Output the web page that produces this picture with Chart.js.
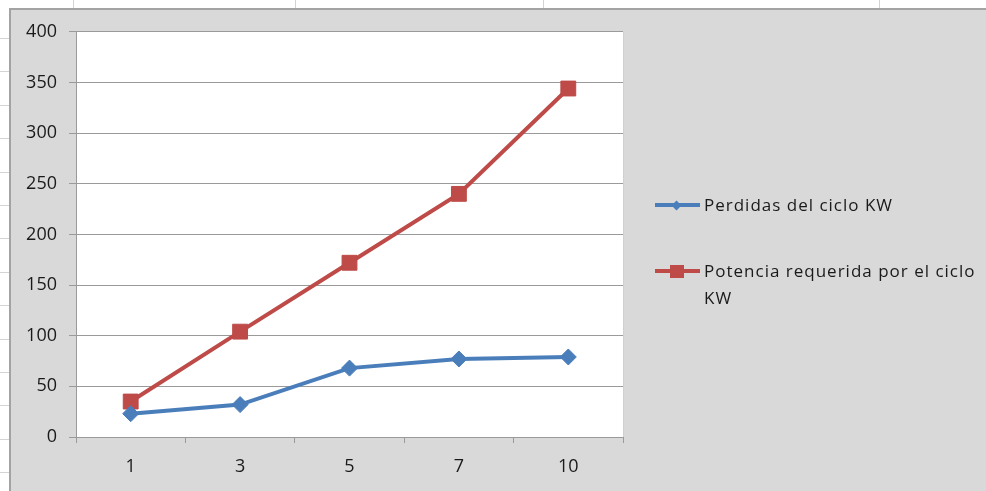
<!DOCTYPE html>
<html><head><meta charset="utf-8">
<script src="https://cdn.jsdelivr.net/npm/chart.js@4.4.1/dist/chart.umd.min.js"></script>
<style>
html,body{margin:0;padding:0;width:986px;height:491px;overflow:hidden;background:#fff;font-family:"Open Sans",sans-serif;}
.vl{position:absolute;top:0;height:8px;width:1px;background:#d4d4d4;}
.hl{position:absolute;left:0;width:9px;height:1px;background:#d4d4d4;}
#frame{position:absolute;left:9px;top:8px;width:977px;height:483px;background:#d9d9d9;border-top:2px solid #a3a3a3;border-left:2px solid #a3a3a3;box-sizing:border-box;}
#wrap{position:absolute;left:10px;top:9px;width:976px;height:482px;}
#legend{position:absolute;left:0;top:0;}
.item{position:absolute;left:655px;}
.sym{position:absolute;left:0;top:12px;width:45px;height:4px;}
.ln{position:absolute;left:0;top:0;width:45px;height:4px;}
.mk{position:absolute;}
.txt{position:absolute;left:49px;top:0;width:280px;line-height:27px;font-size:17px;color:#1a1a1a;letter-spacing:1px;white-space:normal;}
</style></head>
<body>
<div id="sheet"></div>
<div id="frame"></div>
<div id="wrap"><canvas id="c" width="976" height="482"></canvas></div>
<div id="legend"></div>
<script>
const categories = ['1', '3', '5', '7', '10'];
const seriesNames = ['Perdidas del ciclo KW', 'Potencia requerida por el ciclo KW'];
const perdidas = [23, 32, 68, 77, 79];
const potencia = [35, 104, 172, 240, 344];
const yTickValues = [0, 50, 100, 150, 200, 250, 300, 350, 400];
const seriesColors = ['#4a7ebb', '#be4b48'];

// spreadsheet background lines
const sheet = document.getElementById('sheet');
[73, 295, 543, 879].forEach(x => { const d = document.createElement('div'); d.className = 'vl'; d.style.left = x + 'px'; sheet.appendChild(d); });
for (let y = 38; y < 491; y += 33.4) { const d = document.createElement('div'); d.className = 'hl'; d.style.top = Math.round(y) + 'px'; sheet.appendChild(d); }

const plotBg = {
  id: 'plotBg',
  beforeDraw(chart) {
    const { ctx, chartArea: a } = chart;
    ctx.save();
    ctx.fillStyle = '#ffffff';
    ctx.fillRect(a.left, a.top, a.right - a.left, a.bottom - a.top);
    ctx.strokeStyle = '#d0d0d0';
    ctx.lineWidth = 1;
    ctx.beginPath();
    ctx.moveTo(Math.round(a.right) + 0.5, a.top);
    ctx.lineTo(Math.round(a.right) + 0.5, a.bottom);
    ctx.stroke();
    ctx.restore();
  }
};

const tickFont = { family: '"Open Sans", sans-serif', size: 18 };

new Chart(document.getElementById('c'), {
  type: 'line',
  data: {
    labels: categories,
    datasets: [
      { label: seriesNames[0], data: perdidas, borderColor: seriesColors[0], backgroundColor: seriesColors[0],
        borderWidth: 4, pointStyle: 'rectRot', pointRadius: 8, pointBorderWidth: 1, tension: 0 },
      { label: seriesNames[1], data: potencia, borderColor: seriesColors[1], backgroundColor: seriesColors[1],
        borderWidth: 4, pointStyle: 'rect', pointRadius: 10.5, pointBorderWidth: 1, tension: 0 }
    ]
  },
  options: {
    responsive: false,
    animation: false,
    layout: { padding: { top: 21, right: 363, left: 0, bottom: 0 } },
    plugins: { legend: { display: false }, tooltip: { enabled: false } },
    scales: {
      x: {
        type: 'category', offset: true,
        grid: { offset: true, drawOnChartArea: false, drawTicks: true, tickLength: 6, color: '#9a9a9a', lineWidth: 1 },
        border: { display: true, color: '#9a9a9a', width: 1 },
        ticks: { font: tickFont, color: '#1a1a1a', padding: 13, maxRotation: 0 },
        afterFit(s) { s.height = 54; }
      },
      y: {
        min: 0, max: 400,
        afterBuildTicks(s) { s.ticks = yTickValues.map(v => ({ value: v })); },
        grid: { color: '#9a9a9a', lineWidth: 1, drawTicks: true, tickLength: 7 },
        border: { display: true, color: '#9a9a9a', width: 1 },
        ticks: { font: tickFont, color: '#1a1a1a', padding: 12 },
        afterFit(s) { s.width = 66; }
      }
    }
  },
  plugins: [plotBg]
});

// HTML legend
const legend = document.getElementById('legend');
const legendTops = [191, 257];
seriesNames.forEach((name, i) => {
  const item = document.createElement('div');
  item.className = 'item';
  item.style.top = legendTops[i] + 'px';
  const sym = document.createElement('div'); sym.className = 'sym';
  const ln = document.createElement('div'); ln.className = 'ln'; ln.style.background = seriesColors[i]; sym.appendChild(ln);
  const mk = document.createElement('div'); mk.className = 'mk'; mk.style.background = seriesColors[i];
  if (i === 0) { mk.style.width = '7px'; mk.style.height = '7px'; mk.style.left = '18px'; mk.style.top = '-1.5px'; mk.style.transform = 'rotate(45deg)'; }
  else { mk.style.width = '14px'; mk.style.height = '13px'; mk.style.left = '15px'; mk.style.top = '-4.5px'; }
  sym.appendChild(mk);
  item.appendChild(sym);
  const t = document.createElement('div'); t.className = 'txt'; t.textContent = name; item.appendChild(t);
  legend.appendChild(item);
});
</script>
</body></html>
